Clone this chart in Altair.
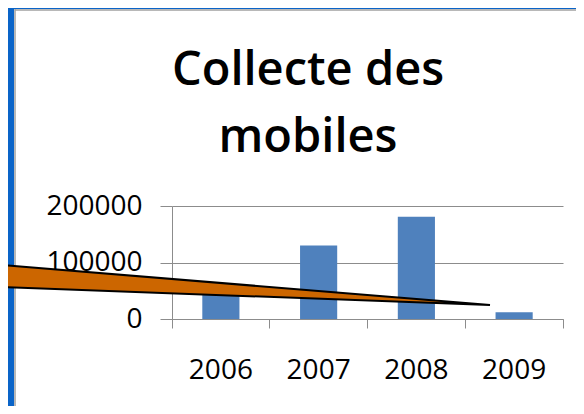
import altair as alt
import pandas as pd

# ---- chart data ----
years = ["2006", "2007", "2008", "2009"]
collected = [60000, 130000, 181000, 12000]
y_ticks = [0, 100000, 200000]
title_lines = ["Collecte des", "mobiles"]

df = pd.DataFrame({"year": years, "value": collected})
title_df = pd.DataFrame({"t": ["\n".join(title_lines)]})

# ---- decoration (slide frame + callout arrow), pixels relative to plot area ----
arrow_x = [-180, 318]
arrow_top = [58.3, 99]
arrow_bot = [80.7, 99]
arrow_df = pd.DataFrame({"px": arrow_x, "top": arrow_top, "bot": arrow_bot})
one = pd.DataFrame({"k": [0]})

GREY = "#8c8c8c"
FONT = "Open Sans"

xscale = alt.Scale(domain=years, paddingInner=0, paddingOuter=0)
yscale = alt.Scale(domain=[0, 200000], nice=False)

bars = alt.Chart(df).mark_bar(color="#4F81BD", width=alt.RelativeBandSize(0.38)).encode(
    x=alt.X("year:N", scale=xscale, sort=years,
            axis=alt.Axis(title=None, orient="bottom", labelAngle=0, ticks=False,
                          domain=False, labelFont=FONT, labelFontSize=28,
                          labelColor="black", labelPadding=37, labelBaseline="top")),
    y=alt.Y("value:Q", scale=yscale,
            axis=alt.Axis(title=None, orient="left", values=y_ticks, format="d",
                          grid=True, gridColor=GREY, domainColor=GREY,
                          tickColor=GREY, tickSize=12, labelPadding=18,
                          labelFont=FONT, labelFontSize=28, labelColor="black")),
)

tick_axis = alt.Chart(df).mark_bar(opacity=0).encode(
    x=alt.X("year:N", scale=xscale, sort=years,
            axis=alt.Axis(title=None, orient="bottom", labels=False, bandPosition=0,
                          tickSize=9, tickColor=GREY, domainColor=GREY, grid=False)),
    y=alt.Y("value:Q", scale=yscale, axis=None),
)

end_tick = alt.Chart(df).mark_bar(opacity=0).encode(
    x=alt.X("year:N", scale=xscale, sort=years,
            axis=alt.Axis(title=None, orient="bottom", labels=False, values=["2009"],
                          bandPosition=1, tickSize=9, tickColor=GREY, domain=False,
                          grid=False)),
    y=alt.Y("value:Q", scale=yscale, axis=None),
)

title = alt.Chart(title_df).mark_text(
    font=FONT, fontSize=47, fontWeight=600, color="black", align="center",
    baseline="alphabetic", lineBreak="\n", lineHeight=67,
).encode(text="t:N", x=alt.value(136), y=alt.value(-121))

frame_left = alt.Chart(one).mark_rect(color="#0A64C8").encode(
    x=alt.value(-170), x2=alt.value(-158), y=alt.value(-210), y2=alt.value(210))
frame_top = alt.Chart(one).mark_rect(color="#0A64C8").encode(
    x=alt.value(-170), x2=alt.value(420), y=alt.value(-210), y2=alt.value(-197))
frame_border = alt.Chart(one).mark_rule(color="#a0a0a0", strokeWidth=1.5).encode(
    x=alt.value(-157), y=alt.value(-197), y2=alt.value(210))
frame_border_top = alt.Chart(one).mark_rule(color="#a0a0a0", strokeWidth=1.5).encode(
    x=alt.value(-157), x2=alt.value(420), y=alt.value(-196))

arrow = alt.Chart(arrow_df).mark_area(
    color="#CC6600", stroke="black", strokeWidth=2, opacity=1
).encode(
    x=alt.X("px:Q", scale=None, axis=None),
    y=alt.Y("top:Q", scale=None, axis=None),
    y2=alt.Y2("bot:Q"),
)

chart = alt.layer(
    bars, tick_axis, end_tick, title, frame_left, frame_top, frame_border,
    frame_border_top, arrow
).resolve_scale(x="independent", y="independent").properties(
    width=391,
    height=113,
    autosize="none",
    padding={"left": 164, "top": 198, "right": 13, "bottom": 87},
    background="white",
).configure_view(strokeWidth=0)

chart.save("out.html", embed_options={"renderer": "svg", "actions": False})
